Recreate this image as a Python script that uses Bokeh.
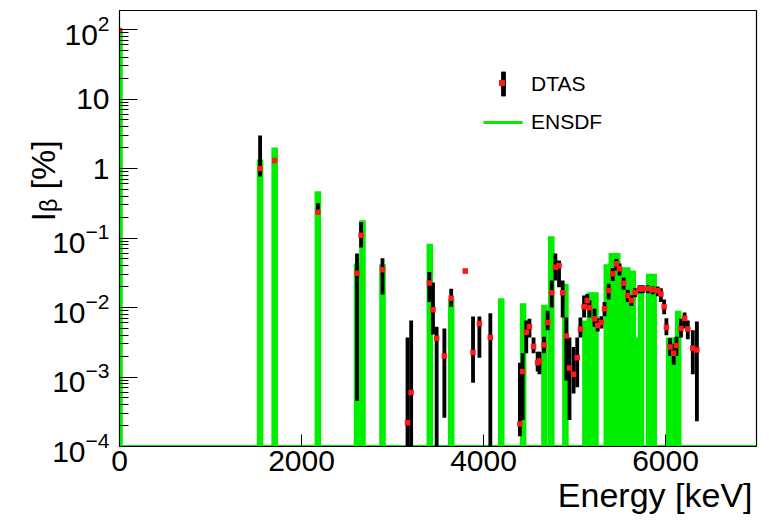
from bokeh.plotting import figure
from bokeh.models import (FixedTicker, LogTickFormatter, Legend, LegendItem, Title,
                          ColumnDataSource, Range1d)
from bokeh.embed import file_html
from bokeh.resources import INLINE

# ---------------- data ----------------
# ENSDF beta feeding (keV, %)
ens_energy = [0, 1545, 1705, 2180, 2610, 2670, 2890, 3410, 3645, 4195, 4435,
              4670, 4745, 4900, 5120, 5170, 5230, 5355, 5410, 5470, 5520, 5580,
              5640, 5690, 5730, 5820, 5870, 6040, 6080, 6140]
ens_int = [97, 1.35, 2.0, 0.47, 0.043, 0.18, 0.042, 0.083, 0.0133, 0.0136, 0.0115,
           0.011, 0.106, 0.022, 0.0065, 0.0166, 0.0166, 0.042, 0.061, 0.061, 0.038, 0.038,
           0.034, 0.0037, 0.02, 0.0305, 0.0305, 0.0037, 0.0037, 0.009]

# DTAS beta feeding (keV, %, lower error limit, upper error limit)
dtas_energy = [0, 1545, 1705, 2180, 2610, 2655, 2890, 3165, 3205, 3405, 3445, 3485,
               3570, 3645, 3800, 3885, 3955, 4075,
               4400, 4430, 4470, 4505, 4550, 4595, 4615, 4665, 4705, 4750, 4790, 4830,
               4870, 4910, 4945, 4990, 5030, 5065, 5105, 5140, 5165, 5220, 5255, 5295,
               5330, 5375, 5420, 5460, 5495, 5540, 5585, 5625, 5665, 5715, 5750, 5805,
               5860, 5915, 5950, 5985, 6010, 6050, 6090, 6120, 6170, 6210, 6245, 6300, 6345]
dtas_int = [97, 1.0, 1.3, 0.235, 0.031, 0.11, 0.035, 2.2e-4, 6e-4, 0.0226, 0.0093, 0.0036,
            0.002, 0.0136, 0.0335, 0.00225, 0.0059, 0.0037,
            2.1e-4, 1.2e-3, 4.4e-3, 5.3e-3, 2.75e-3, 1.6e-3, 1.7e-3, 2.9e-3, 6.1e-3, 0.0163, 0.038, 0.040,
            0.0163, 3.9e-3, 1.35e-3, 1.1e-3, 1.9e-3, 4.9e-3, 0.0103, 0.0126, 9.9e-3, 6.9e-3, 5.5e-3, 6.1e-3,
            9.6e-3, 0.0176, 0.0305, 0.0425, 0.036, 0.0224, 0.0149, 0.0126, 0.0166, 0.0186, 0.0186, 0.0186,
            0.018, 0.0176, 0.0157, 0.0103, 5.2e-3, 2.7e-3, 2.2e-3, 2.85e-3, 5.0e-3, 7.0e-3, 4.9e-3, 2.6e-3, 2.45e-3]
dtas_lo = [90, 0.77, 1.2, 0.22, 4.5e-4, 0.073, 0.0154, 9e-5, 9e-5, 0.012, 0.0041, 9e-5,
           2.6e-4, 0.0103, 0.031, 8.3e-4, 0.0019, 9e-5,
           1.4e-4, 2.4e-4, 2.2e-3, 3.7e-3, 2.2e-3, 1.2e-3, 1.1e-3, 2.2e-3, 4.7e-3, 0.010, 0.0245, 0.0196,
           0.0072, 8.9e-4, 2.4e-4, 5.8e-4, 7.1e-4, 3.7e-3, 7.2e-3, 9.6e-3, 7.2e-3, 5.3e-3, 4.5e-3, 5.0e-3,
           7.5e-3, 0.013, 0.024, 0.034, 0.029, 0.018, 0.012, 0.0105, 0.014, 0.016, 0.016, 0.016,
           0.0155, 0.0145, 0.012, 0.008, 4.0e-3, 2.0e-3, 1.5e-3, 2.0e-3, 3.7e-3, 5.0e-3, 3.5e-3, 1.1e-3, 2.3e-4]
dtas_hi = [100, 3.0, 1.4, 0.317, 0.06, 0.17, 0.051, 3.7e-3, 6.5e-3, 0.0325, 0.023, 0.0053,
           0.005, 0.0186, 0.036, 0.0074, 0.0074, 0.0083,
           1.6e-3, 2.2e-3, 6.5e-3, 6.9e-3, 3.7e-3, 2.3e-3, 2.3e-3, 3.8e-3, 9.0e-3, 0.0245, 0.060, 0.0475,
           0.0245, 7.2e-3, 3.7e-3, 2.7e-3, 3.7e-3, 7.2e-3, 0.0149, 0.0157, 0.0126, 9.6e-3, 7.0e-3, 7.5e-3,
           0.012, 0.022, 0.037, 0.050, 0.043, 0.027, 0.018, 0.015, 0.019, 0.021, 0.021, 0.021,
           0.020, 0.020, 0.019, 0.013, 7.0e-3, 3.6e-3, 3.0e-3, 3.8e-3, 6.9e-3, 8.5e-3, 6.5e-3, 4.7e-3, 6.3e-3]

x_ticks = [0, 2000, 4000, 6000]
y_ticks = [1e-4, 1e-3, 1e-2, 1e-1, 1, 10, 100]
y_plain_labels = {1: "1", 10: "10"}

GREEN = "#00ee00"
FONT = "Liberation Sans"

p = figure(width=769, height=520, y_axis_type="log",
           x_range=Range1d(0, 7000), y_range=Range1d(1e-4, 188),
           output_backend="svg", toolbar_location=None,
           min_border_left=119, min_border_right=13, min_border_top=10, min_border_bottom=74)
p.xgrid.visible = False
p.ygrid.visible = False
p.outline_line_color = "black"
p.outline_line_width = 1.2
p.background_fill_color = "white"
p.border_fill_color = "white"

ens_src = ColumnDataSource(dict(x=ens_energy, top=ens_int, bottom=[1e-5] * len(ens_int)))
dt_src = ColumnDataSource(dict(x=dtas_energy, y=dtas_int, lo=dtas_lo, hi=dtas_hi))

ens_r = p.vbar(x="x", top="top", bottom="bottom", width=72, source=ens_src,
               fill_color=GREEN, line_color=None)
p.segment(x0=[0], x1=[7000], y0=[1e-4], y1=[1e-4], line_color=GREEN, line_width=3)
err_r = p.vbar(x="x", top="hi", bottom="lo", width=42, source=dt_src,
               fill_color="black", line_color=None)
pts_r = p.scatter(x="x", y="y", source=dt_src, marker="square", size=5.5,
                  fill_color="#ff1a1a", line_color=None)

# axes
xa = p.xaxis[0]
xa.ticker = FixedTicker(ticks=x_ticks)
xa.major_tick_in = 12
xa.major_tick_out = 0
xa.minor_tick_in = 0
xa.minor_tick_out = 0
xa.major_label_standoff = 4
xa.major_label_text_font = FONT
xa.major_label_text_font_size = "30px"
xa.major_label_text_color = "black"
xa.axis_line_color = "black"
xa.major_tick_line_color = "black"

minor = [m * 10.0 ** e for e in range(-4, 3) for m in range(2, 10)]
ya = p.yaxis[0]
ya.ticker = FixedTicker(ticks=y_ticks, minor_ticks=minor)
ya.formatter = LogTickFormatter()
ya.major_label_overrides = {float(k): v for k, v in y_plain_labels.items()}
ya.major_tick_in = 18
ya.major_tick_out = 0
ya.minor_tick_in = 9
ya.minor_tick_out = 0
ya.major_label_standoff = 10
ya.major_label_text_font = FONT
ya.major_label_text_font_size = "30px"
ya.major_label_text_color = "black"
ya.axis_line_color = "black"
ya.major_tick_line_color = "black"
ya.minor_tick_line_color = "black"

# axis titles
p.add_layout(Title(text="Energy [keV]", align="right", text_font=FONT, text_font_size="34px",
                   text_font_style="normal", text_color="black", standoff=0, offset=4), "below")
p.add_layout(Title(text="Iᵦ [%]", align="left", text_font=FONT, text_font_size="34px",
                   text_font_style="normal", text_color="black", standoff=-25, offset=225), "left")

# legends
common = dict(padding=0, margin=0, spacing=0, border_line_alpha=0, background_fill_alpha=0,
              label_text_font=FONT, label_text_font_size="21px", label_text_color="black")
leg_dtas = Legend(items=[LegendItem(label="DTAS", renderers=[err_r])], location=(381, 347),
                  glyph_width=6, glyph_height=31, label_standoff=25, **common)
leg_dot = Legend(items=[LegendItem(label=" ", renderers=[pts_r])], location=(375, 356),
                 glyph_width=15, glyph_height=15, label_standoff=0, label_height=15,
                 **{**common, "label_text_font_size": "1px"})
leg_ens = Legend(items=[LegendItem(label="ENSDF", renderers=[ens_r])], location=(359, 312),
                 glyph_width=49, glyph_height=4, label_standoff=4, **common)
p.add_layout(leg_dtas)
p.add_layout(leg_ens)
p.add_layout(leg_dot)

open("out.html", "w").write(file_html(p, INLINE))
